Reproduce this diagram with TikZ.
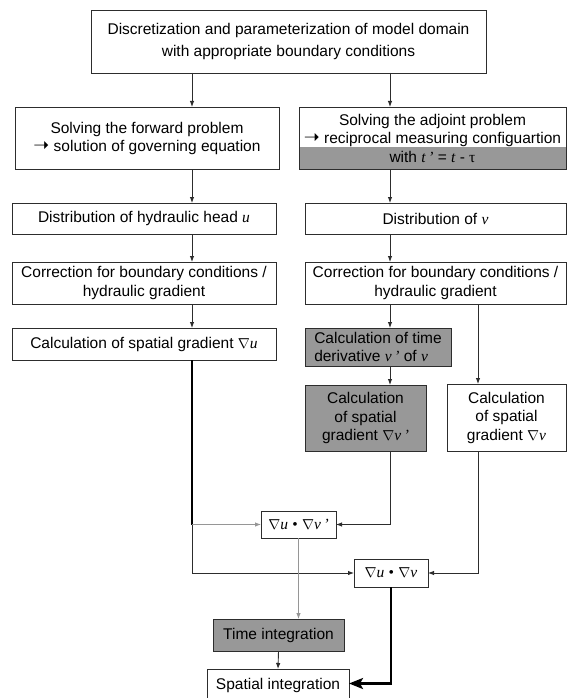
\documentclass[tikz,border=0pt]{standalone}
\usepackage{fontspec}
\setmainfont{Liberation Sans}
\newfontfamily\varfont{Liberation Serif}
\newfontfamily\symfont{DejaVu Sans}
\usepackage{tikz}
\usetikzlibrary{arrows.meta,backgrounds}
\usepackage{xcolor}
\definecolor{BoxLine}{RGB}{45,45,45}
\definecolor{ShadeGray}{RGB}{152,152,152}
\definecolor{LinkGray}{RGB}{150,150,150}
\newcommand{\tv}[1]{{\varfont\itshape #1}}
\newcommand{\rarr}{{\symfont\fontsize{19}{19}\selectfont ➝}}

\begin{document}
\begin{tikzpicture}[
    x=1pt, y=-1pt,
    font=\fontsize{15.5}{18.5}\selectfont,
    flowbox/.style={rectangle, draw=BoxLine, line width=0.9pt, fill=white, inner sep=2pt, outer sep=0pt, align=center},
    shadebox/.style={flowbox, fill=ShadeGray},
    arrow/.style={-{Latex[length=6pt,width=4.5pt]}, line width=0.9pt, color=BoxLine},
    grayarrow/.style={arrow, color=LinkGray},
    heavyline/.style={line width=2pt, color=black},
    heavyarrow/.style={-{Stealth[length=14pt,width=11pt,inset=3pt]}, line width=2.4pt, color=black}
]
\useasboundingbox (0,0) rectangle (567,698);
\coordinate (lx) at (192,0);
\coordinate (rx) at (390,0);
\coordinate (vx) at (478,0);

% model set-up
\node[flowbox, minimum width=395pt, minimum height=63pt, font=\fontsize{15.5}{22}\selectfont] (setup) at (288.5,41.5) {Discretization and parameterization of model domain\\with appropriate boundary conditions};

% forward branch
\node[flowbox, minimum width=264pt, minimum height=62.5pt] (fwd) at (147,138.25) {Solving the forward problem\\\rarr{} solution of governing equation};
\node[flowbox, minimum width=264pt, minimum height=31pt] (distu) at (144,218.5) {Distribution of hydraulic head \tv{u}};
\node[flowbox, minimum width=264pt, minimum height=42pt] (corru) at (144,283) {Correction for boundary conditions /\\hydraulic gradient};
\node[flowbox, minimum width=264pt, minimum height=32pt] (gradu) at (144,344) {Calculation of spatial gradient $\nabla$\tv{u}};

% adjoint branch
\node[flowbox, fill=none, minimum width=267pt, minimum height=62.5pt] (adj) at (432.5,138.25) {Solving the adjoint problem\\\rarr{} reciprocal measuring configuartion\\with \tv{t\,’} = \tv{t} - {\varfont τ}};
\node[flowbox, minimum width=261pt, minimum height=31pt] (distv) at (435.5,218.5) {Distribution of \tv{v}};
\node[flowbox, minimum width=261pt, minimum height=42pt] (corrv) at (435.5,283) {Correction for boundary conditions /\\hydraulic gradient};
\node[shadebox, align=left, minimum width=146pt, minimum height=38pt] (timed) at (378,347) {Calculation of time\\derivative \tv{v\,’} of \tv{v}};
\node[shadebox, minimum width=121pt, minimum height=66pt] (gradvp) at (365.5,418) {Calculation\\of spatial\\gradient $\nabla$\tv{v\,’}};
\node[flowbox, minimum width=119pt, minimum height=67pt] (gradv) at (506.5,417.5) {Calculation\\of spatial\\gradient $\nabla$\tv{v}};

% products and integration
\node[flowbox, minimum width=75pt, minimum height=27pt] (prodp) at (298.5,524.5) {$\nabla$\tv{u} {\varfont •} $\nabla$\tv{v\,’}};
\node[flowbox, minimum width=74pt, minimum height=28pt] (prod) at (391,573) {$\nabla$\tv{u} {\varfont •} $\nabla$\tv{v}};
\node[shadebox, minimum width=131pt, minimum height=32pt] (timei) at (278.5,635) {Time integration};
\node[flowbox, minimum width=142pt, minimum height=32pt] (spati) at (278,685) {Spatial integration};

\begin{scope}[on background layer]
\fill[ShadeGray] (adj.south west) rectangle ([yshift=22.5pt]adj.south east);
\end{scope}

\draw[arrow] (setup.south -| lx) -- (fwd.north -| lx);
\draw[arrow] (setup.south -| rx) -- (adj.north -| rx);
\draw[arrow] (fwd.south -| lx) -- (distu.north -| lx);
\draw[arrow] (distu.south -| lx) -- (corru.north -| lx);
\draw[arrow] (corru.south -| lx) -- (gradu.north -| lx);
\draw[arrow] (adj.south -| rx) -- (distv.north -| rx);
\draw[arrow] (distv.south -| rx) -- (corrv.north -| rx);
\draw[arrow] (corrv.south -| rx) -- (timed.north -| rx);
\draw[arrow] (timed.south -| rx) -- (gradvp.north -| rx);
\draw[arrow] (corrv.south -| vx) -- (gradv.north -| vx);

\draw[heavyline] (gradu.south -| lx) -- (lx |- prodp.west) coordinate (split);
\draw[grayarrow] (split) -- (prodp.west);
\draw[arrow] (split) |- (prod.west);
\draw[arrow] (gradvp.south -| rx) |- (prodp.east);
\draw[arrow] (gradv.south -| vx) |- (prod.east);
\draw[grayarrow] (prodp.south) -- (prodp.south |- timei.north);
\draw[arrow] (timei.south) -- (spati.north);
\draw[heavyarrow] (prod.south) |- ([yshift=1.5pt]spati.east);
\end{tikzpicture}
\end{document}
